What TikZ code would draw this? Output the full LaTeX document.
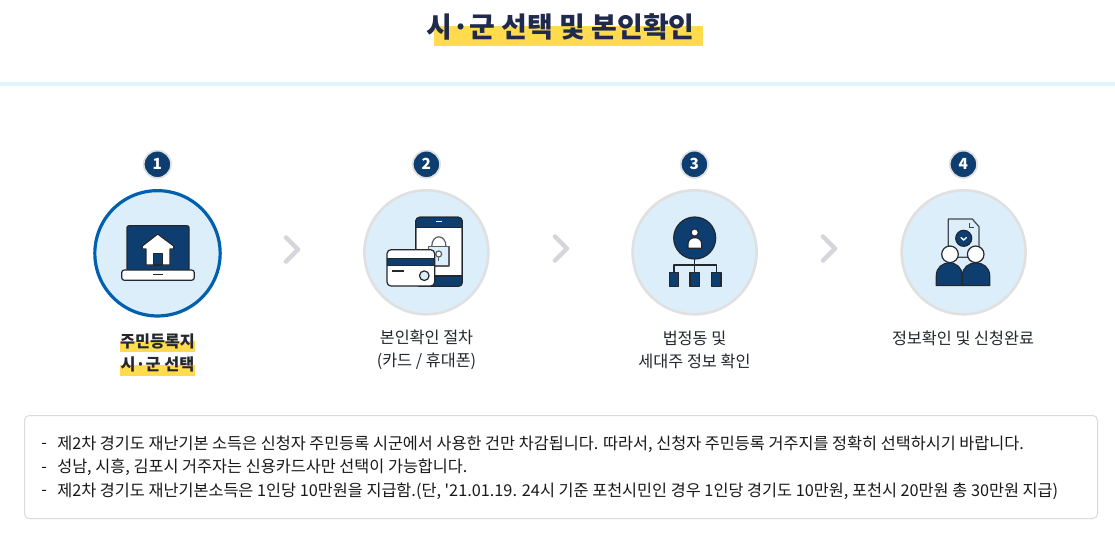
\documentclass[tikz,border=0pt]{standalone}
\usepackage{fontspec}
\setmainfont[Ligatures=TeXOff]{Noto Sans CJK KR}
\definecolor{navy}{HTML}{0E3E70}
\definecolor{ink}{HTML}{23282F}
\definecolor{pale}{HTML}{DCEEF9}
\definecolor{ringgray}{HTML}{E0E0E0}
\definecolor{chev}{HTML}{D5D5DC}
\definecolor{hilite}{HTML}{FFDB4D}
\definecolor{titleink}{HTML}{1F2A4D}
\definecolor{band}{HTML}{DFF4FB}
\definecolor{boxline}{HTML}{DADADA}
\definecolor{ringblue}{HTML}{0060B0}
\tikzset{
 x=0.75pt,y=-0.75pt,
 disc/.style={circle,draw=ringgray,fill=pale,line width=1.9pt,minimum size=93pt,inner sep=0pt},
 activedisc/.style={disc,draw=ringblue,line width=2.4pt,minimum size=94pt},
 badge/.style={circle,draw=ringgray,fill=navy,line width=1.3pt,minimum size=20.5pt,inner sep=0pt,text=white,font=\fontsize{11.5}{12}\selectfont\bfseries},
 chevron/.style={draw=chev,line width=3.4pt,line cap=round,line join=round},
 icon/.style={draw=ink,line width=0.9pt,line join=round},
 steplabel/.style={align=center,text=ink,font=\fontsize{12.2}{17.6}\selectfont,anchor=center},
 noteline/.style={anchor=west,text=black!90,inner sep=0pt,font=\fontsize{12.22}{12}\selectfont},
 hlbar/.style={fill=hilite,draw=none}
}
\begin{document}
\begin{tikzpicture}
\useasboundingbox (0,0) rectangle (1115,533);
\fill[white] (0,0) rectangle (1115,533);
% title
\fill[hilite] (434,26) rectangle (703,46);
\node[text=titleink,inner sep=0pt,font=\fontsize{21}{22}\selectfont\bfseries] (title) at (560.5,27) {시·군 선택 및 본인확인};
\fill[band] (0,82) rectangle (1115,86);
% badges
\node[badge] (b1) at (157.4,164.3) {1};
\node[badge] (b2) at (426.4,164.3) {2};
\node[badge] (b3) at (694.4,164.3) {3};
\node[badge] (b4) at (963.4,164.3) {4};
% discs
\node[activedisc] (d1) at (157.5,253.3) {};
\node[disc] (d2) at (426.4,252.3) {};
\node[disc] (d3) at (694.6,252.3) {};
\node[disc] (d4) at (963.6,252.3) {};
% chevrons
\draw[chevron] (286,237.5) -- (298,249.5) -- (286,261.5);
\draw[chevron] (555,236.5) -- (567,248.5) -- (555,260.5);
\draw[chevron] (823,236.5) -- (835,248.5) -- (823,260.5);
% icon 1: laptop
\draw[icon,fill=navy,rounded corners=1.5pt] (127,225.7) rectangle (189,271);
\draw[icon,fill=white,rounded corners=2pt] (121.7,270) rectangle (194.3,280.3);
\draw[ink,line width=1.1pt] (153,274.7) -- (163,274.7);
\draw[icon,fill=white] (157.7,234) -- (173.7,246) -- (173.7,249) -- (170,249) -- (170,265) -- (146,265) -- (146,249) -- (142.3,249) -- (142.3,246) -- cycle;
\draw[icon,fill=navy] (153.7,265) -- (153.7,253.5) -- (162.3,253.5) -- (162.3,265) -- cycle;
% icon 2: phone and card
\draw[icon,fill=white,rounded corners=3pt] (415.7,217.3) rectangle (462.3,286.3);
\begin{scope}
\clip[rounded corners=3pt] (415.7,217.3) rectangle (462.3,286.3);
\draw[icon,fill=navy] (410,210) rectangle (470,227.7);
\draw[icon,fill=navy] (410,276) rectangle (470,295);
\end{scope}
\draw[icon,rounded corners=3pt] (415.7,217.3) rectangle (462.3,286.3);
\draw[white,line width=1.1pt] (436,221.7) -- (441.7,221.7);
\draw[icon,draw=ink!75,fill=pale] (428.3,246.7) rectangle (449,266);
\draw[icon,draw=ink!75] (431.7,246.7) .. controls (431.7,233.5) and (446,233.5) .. (446,246.7);
\draw[icon,draw=ink!75] (438.7,257) -- (438.7,261);
\draw[icon,draw=ink!75,fill=white] (438.7,254) circle[radius=3];
\draw[icon,fill=white,rounded corners=3pt] (387,249.7) rectangle (434.7,286);
\draw[ink,fill=navy,line width=0.7pt] (387,258.3) rectangle (434.7,265.3);
\draw[ink,line width=0.9pt] (392.3,271) -- (404.3,271);
\draw[icon,fill=pale] (424.3,275.7) circle[radius=4.8];
% icon 3: tree
\draw[icon] (694.7,259) -- (694.7,272.7);
\draw[icon] (674,272.7) -- (674,265) -- (716.3,265) -- (716.3,272.7);
\draw[icon,fill=navy] (694.7,238) circle[radius=21];
\draw[icon,fill=white] (694.7,232.5) circle[radius=3.7];
\draw[icon,fill=white] (688,248.3) -- (688,244) .. controls (688,235.5) and (701.7,235.5) .. (701.7,244) -- (701.7,248.3) -- cycle;
\draw[icon,fill=navy] (669.3,272.7) rectangle (678.7,286.3);
\draw[icon,fill=navy] (690,272.7) rectangle (699.3,286.3);
\draw[icon,fill=navy] (711.7,272.7) rectangle (721,286.3);
% icon 4: document and people
\draw[icon,draw=ink!85,fill=pale] (950,257.3) -- (948.3,257.3) -- (948.3,219) -- (972.3,219) -- (979,226.7) -- (979,257.3) -- cycle;
\draw[ink!85,line width=0.9pt] (969.7,223.3) -- (969.7,227.7) -- (974.3,227.7);
\draw[icon,fill=navy] (963.7,238.3) circle[radius=8];
\draw[white,line width=1pt] (960.7,237.3) -- (963.7,240) -- (966.7,237.3);
\draw[icon,fill=white] (950,254.3) circle[radius=8.3];
\draw[icon,fill=white] (975.7,254.3) circle[radius=8.3];
\draw[icon,fill=navy] (936.3,285.5) -- (936.3,276) .. controls (936.3,258.5) and (962.3,258.5) .. (962.3,276) -- (962.3,285.5) -- cycle;
\draw[icon,fill=navy] (962.3,285.5) -- (962.3,276) .. controls (962.3,258.5) and (989.7,258.5) .. (989.7,276) -- (989.7,285.5) -- cycle;
% labels
\fill[hlbar] (120,341) rectangle (195,352);
\fill[hlbar] (120,365) rectangle (195,376);
\node[steplabel,font=\fontsize{12.2}{17.6}\selectfont\bfseries] (l1) at (157.5,353) {주민등록지\\시·군 선택};
\node[steplabel] (l2) at (426.5,350) {본인확인 절차\\(카드 / 휴대폰)};
\node[steplabel] (l3) at (694.5,350) {법정동 및\\세대주 정보 확인};
\node[steplabel] (l4) at (963,338) {정보확인 및 신청완료};
% note box
\draw[boxline,line width=0.75pt,rounded corners=3.5pt] (24.5,415.5) rectangle (1097.5,518.5);
\node[noteline] (n1d) at (41,446) {-};
\node[noteline] (n1) at (57,444) {제2차 경기도 재난기본 소득은 신청자 주민등록 시군에서 사용한 건만 차감됩니다. 따라서, 신청자 주민등록 거주지를 정확히 선택하시기 바랍니다.};
\node[noteline] (n2d) at (41,469.5) {-};
\node[noteline] (n2) at (57,467.5) {성남, 시흥, 김포시 거주자는 신용카드사만 선택이 가능합니다.};
\node[noteline] (n3d) at (41,493) {-};
\node[noteline] (n3) at (57,491) {제2차 경기도 재난기본소득은 1인당 10만원을 지급함.(단, '21.01.19. 24시 기준 포천시민인 경우 1인당 경기도 10만원, 포천시 20만원 총 30만원 지급)};
\end{tikzpicture}
\end{document}
